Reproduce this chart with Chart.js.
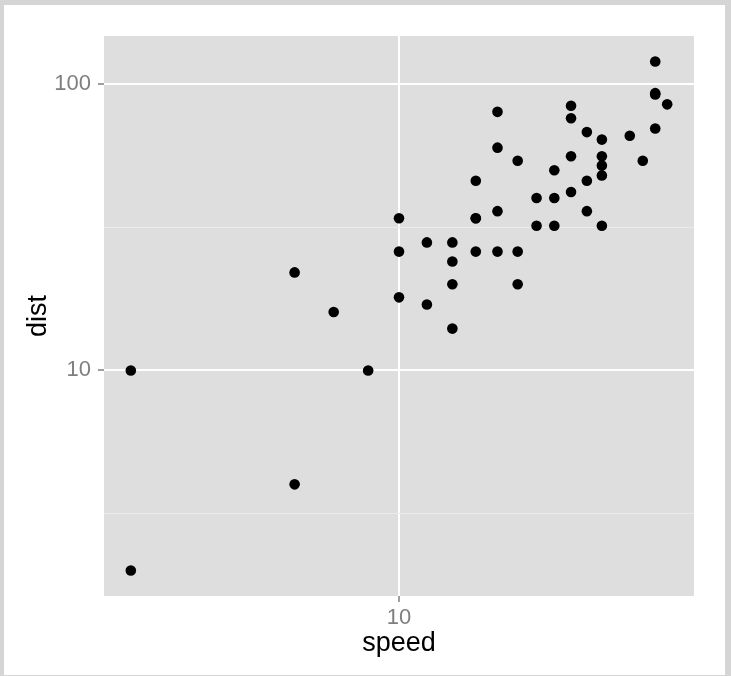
<!DOCTYPE html>
<html>
<head>
<meta charset="utf-8">
<script src="https://cdn.jsdelivr.net/npm/chart.js@4"></script>
<style>
  html, body { margin: 0; padding: 0; background: #ffffff; }
  canvas { display: block; }
</style>
</head>
<body>
<canvas id="myChart" width="731" height="676"></canvas>
<script>
// cars data set, log-log
const speed = [4, 4, 7, 7, 8, 9, 10, 10, 10, 11, 11, 12, 12, 12, 12, 13, 13, 13, 13, 14,
  14, 14, 14, 15, 15, 15, 16, 16, 17, 17, 17, 18, 18, 18, 18, 19, 19, 19, 20, 20,
  20, 20, 20, 22, 23, 24, 24, 24, 24, 25];
const dist = [2, 10, 4, 22, 16, 10, 18, 26, 34, 17, 28, 14, 20, 24, 28, 26, 34, 34, 46, 26,
  36, 60, 80, 20, 26, 54, 32, 40, 32, 40, 50, 42, 56, 76, 84, 36, 46, 68, 32, 48,
  52, 56, 64, 66, 54, 70, 92, 93, 120, 85];

const xBreaks = [10];
const yBreaks = [10, 100];
const yMinor = [3.1623, 31.623];

const FONT = "'Liberation Sans', Arial, Helvetica, sans-serif";

// ggplot style 5% expansion on log scale
function expand(vals) {
  const lo = Math.log10(Math.min(...vals)), hi = Math.log10(Math.max(...vals));
  const pad = (hi - lo) * 0.05;
  return [Math.pow(10, lo - pad), Math.pow(10, hi + pad)];
}
const xLim = expand(speed);
const yLim = expand(dist);

const points = speed.map((s, i) => ({ x: s, y: dist[i] }));

const isMajor = (list, v) => list.some(b => Math.abs(b - v) < 1e-6);

const framePlugin = {
  id: 'frame',
  beforeDraw(chart) {
    const ctx = chart.ctx;
    const a = chart.chartArea;
    ctx.save();
    ctx.fillStyle = '#d5d5d5';
    ctx.fillRect(0, 0, chart.width, chart.height);
    ctx.fillStyle = '#ffffff';
    ctx.fillRect(4, 5, 721, 670);
    ctx.fillStyle = '#dedede';
    ctx.fillRect(a.left, a.top, a.right - a.left, a.bottom - a.top);
    ctx.restore();
  }
};

new Chart(document.getElementById('myChart'), {
  type: 'scatter',
  data: {
    datasets: [{
      data: points,
      backgroundColor: '#000000',
      borderColor: '#000000',
      pointRadius: 5.3,
      pointHoverRadius: 5.3,
      borderWidth: 0
    }]
  },
  options: {
    responsive: false,
    animation: false,
    events: [],
    layout: { padding: { top: 36, right: 37, left: 0, bottom: 0 } },
    plugins: {
      legend: { display: false },
      tooltip: { enabled: false }
    },
    scales: {
      x: {
        type: 'logarithmic',
        min: xLim[0],
        max: xLim[1],
        afterFit(scale) { scale.height = 80; },
        afterBuildTicks(scale) {
          scale.ticks = xBreaks.map(v => ({ value: v, major: true }));
        },
        border: { display: false },
        grid: {
          color: '#ffffff',
          lineWidth: 2,
          tickLength: 6,
          tickColor: '#7f7f7f',
          tickWidth: 1.5
        },
        ticks: {
          autoSkip: false,
          maxRotation: 0,
          padding: 3,
          color: '#7f7f7f',
          font: { family: FONT, size: 22 },
          callback: v => String(v)
        },
        title: {
          display: true,
          text: 'speed',
          color: '#000000',
          font: { family: FONT, size: 27 },
          padding: { top: 0, bottom: 16 }
        }
      },
      y: {
        type: 'logarithmic',
        min: yLim[0],
        max: yLim[1],
        afterFit(scale) { scale.width = 104; },
        afterBuildTicks(scale) {
          scale.ticks = yMinor.concat(yBreaks).sort((a, b) => a - b).map(v => ({ value: v }));
        },
        border: { display: false },
        grid: {
          color: c => isMajor(yBreaks, c.tick.value) ? '#ffffff' : '#ebebeb',
          lineWidth: c => isMajor(yBreaks, c.tick.value) ? 2 : 1,
          tickLength: 6,
          tickColor: c => isMajor(yBreaks, c.tick.value) ? '#7f7f7f' : 'rgba(0,0,0,0)',
          tickWidth: 1.5
        },
        ticks: {
          autoSkip: false,
          padding: 7,
          color: '#7f7f7f',
          font: { family: FONT, size: 22 },
          callback: v => isMajor(yBreaks, v) ? String(v) : ''
        },
        title: {
          display: true,
          text: 'dist',
          color: '#000000',
          font: { family: FONT, size: 27 },
          padding: { top: 22, bottom: 0 }
        }
      }
    }
  },
  plugins: [framePlugin]
});
</script>
</body>
</html>
